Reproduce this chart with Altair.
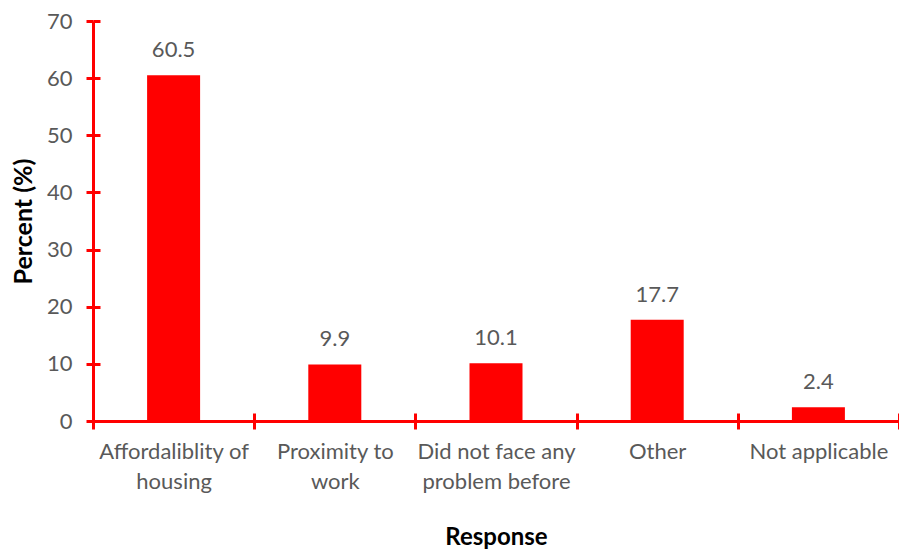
import altair as alt
import pandas as pd

# Survey responses and their shares
categories = [
    "Affordaliblity of|housing",
    "Proximity to|work",
    "Did not face any|problem before",
    "Other",
    "Not applicable",
]
percent = [60.5, 9.9, 10.1, 17.7, 2.4]
y_ticks = [0, 10, 20, 30, 40, 50, 60, 70]

df = pd.DataFrame({"Response": categories, "Percent": percent})

RED = "#FF0000"
GREY = "#595959"
FONT = "Lato"
W, H = 806, 400

x_scale = alt.Scale(paddingInner=0, paddingOuter=0)
y_scale = alt.Scale(domain=[0, 70])

base = alt.Chart(df)

bars = base.mark_bar(color=RED, size=53).encode(
    x=alt.X(
        "Response:N",
        sort=categories,
        scale=x_scale,
        axis=alt.Axis(
            title="Response",
            titleFont=FONT,
            titleFontSize=24,
            titleFontWeight="bold",
            titleColor="black",
            titlePadding=33,
            labelExpr="split(datum.label, '|')",
            labelFont=FONT,
            labelFontSize=22,
            labelColor=GREY,
            labelLineHeight=30,
            labelPadding=12,
            labelAngle=0,
            domainColor=RED,
            domainWidth=3,
            tickColor=RED,
            tickWidth=3,
            tickSize=8,
            tickBand="extent",
            grid=False,
        ),
    ),
    y=alt.Y(
        "Percent:Q",
        scale=y_scale,
        axis=alt.Axis(
            title="Percent (%)",
            titleFont=FONT,
            titleFontSize=25,
            titleFontWeight="bold",
            titleColor="black",
            titlePadding=10,
            values=y_ticks,
            labelFont=FONT,
            labelFontSize=22,
            labelColor=GREY,
            labelPadding=14,
            domainColor=RED,
            domainWidth=3,
            tickColor=RED,
            tickWidth=3,
            tickSize=7,
            grid=False,
        ),
    ),
)

labels = base.mark_text(
    font=FONT, fontSize=22, color=GREY, baseline="alphabetic", dy=-18
).encode(
    x=alt.X("Response:N", sort=categories, scale=x_scale, axis=None),
    y=alt.Y("Percent:Q", scale=y_scale, axis=None),
    text=alt.Text("Percent:Q", format=".1f"),
)

# Inner halves of the crossing tick marks on both axes
inner_ticks = base.mark_point(opacity=0).encode(
    x=alt.X(
        "Response:N",
        sort=categories,
        scale=x_scale,
        axis=alt.Axis(
            orient="top", offset=-H, title=None, labels=False, domain=False,
            tickColor=RED, tickWidth=3, tickSize=8, tickBand="extent", grid=False,
        ),
    ),
    y=alt.Y(
        "Percent:Q",
        scale=y_scale,
        axis=alt.Axis(
            orient="right", offset=-W, title=None, labels=False, domain=False,
            values=y_ticks, tickColor=RED, tickWidth=3, tickSize=7, grid=False,
        ),
    ),
)

chart = (
    alt.layer(bars, labels, inner_ticks)
    .resolve_axis(x="independent", y="independent")
    .properties(
        width=W,
        height=H,
        autosize=alt.AutoSizeParams(type="none"),
        padding={"left": 93, "top": 21, "right": 0, "bottom": 130},
        background="white",
    )
    .configure_view(stroke=None)
)

chart.save("out.html", embed_options={"renderer": "svg", "actions": False})
